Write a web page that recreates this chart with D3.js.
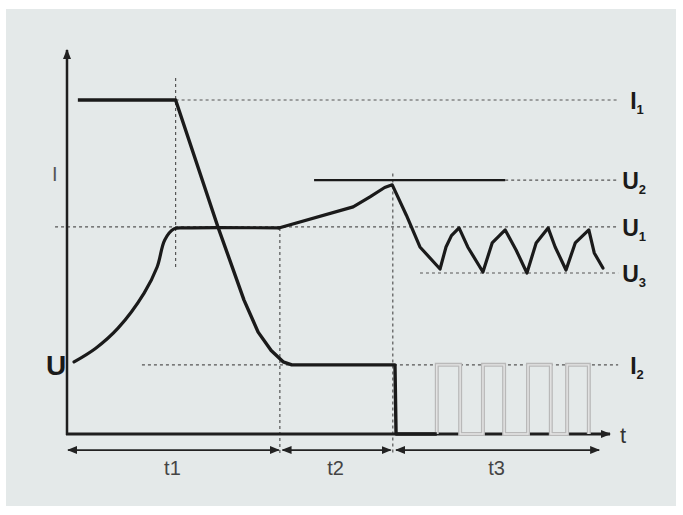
<!DOCTYPE html>
<html lang="en">
  <head>
    <meta charset="UTF-8" />
    <title>Charge profile</title>
    <script src="https://d3js.org/d3.v7.min.js"></script>
    <style>
      body { margin: 0; background: #fff; }
      svg text { font-family: "Liberation Sans", Arial, sans-serif; }
      .lbl { font-weight: bold; fill: #1a1a1a; font-size: 23px; }
      .ref { stroke: #555; stroke-width: 1.2; stroke-dasharray: 3 3; fill: none; }
      .phase { fill: #444; font-size: 20px; }
    </style>
  </head>
  <body>
    <div id="chart"></div>
    <script>
      // current curve I (time, level)
      const currentPoints = [
        [2, 100], [20, 100], [27.8, 62], [32.6, 40.1], [35.2, 30.5],
        [37.6, 25], [39.8, 21.6], [41.4, 20.7], [60.4, 20.7], [60.6, 0], [68.1, 0]
      ];
      // voltage curve U: smooth rise to the U1 plateau
      const voltageRise = [
        [1.3, 21.6], [5.3, 25.7], [9.4, 31.7], [14.2, 42.2], [16.6, 50],
        [18, 58.1], [19.7, 61.4], [22, 61.7], [39, 61.7]
      ];
      // voltage curve U: climb to U2 and sawtooth between U1 and U3
      const voltageCycle = [
        [39, 61.7], [52.7, 68], [55.8, 71], [58.5, 73.8],
        [59.9, 74.6], [62.5, 65.5], [65, 56], [68.7, 49.4], [69.8, 56], [70.8, 59.4], [72.2, 61.7],
        [73.8, 56], [76.6, 48.5], [78.3, 57.2], [80.7, 61.1], [82.7, 55.1],
        [84.7, 48.2], [86.4, 57.2], [88.6, 61.7], [89.9, 56], [91.9, 49.1],
        [93.6, 57.2], [96.1, 61.1], [97.1, 54.2], [98.7, 49.7]
      ];
      // pulsed current in phase t3 (start, end)
      const pulses = [[68.1, 72.4], [76.6, 80.5], [84.9, 89.1], [92.1, 96.1]];
      const pulseLevel = 20.7;

      // reference levels
      const levelNames = [["I", "1"], ["U", "2"], ["U", "1"], ["U", "3"], ["I", "2"]];
      const levelValues = [100, 76, 62, 48.2, 20.7];
      const levelFrom = [20, 80.7, -2.2, 65, 13.8];
      const levelTo = 101.5;
      const u2Solid = [45.5, 80.7];

      // vertical markers (time, from level, to level)
      const markers = [[20, 106.6, 49.7], [39.2, 61.7, -6.3], [60, 78, -6.3]];

      // phases
      const phaseNames = ["t1", "t2", "t3"];
      const phaseBounds = [[0.2, 39], [39.7, 59.6], [60.6, 98]];

      const W = 683, H = 515;
      const x = d3.scaleLinear().domain([0, 100]).range([67, 610]);
      const y = d3.scaleLinear().domain([0, 100]).range([434, 100]);

      const svg = d3.select("#chart").append("svg")
        .attr("width", W).attr("height", H);

      const defs = svg.append("defs");
      defs.append("marker").attr("id", "ah")
        .attr("viewBox", "0 0 10 10").attr("refX", 9).attr("refY", 5)
        .attr("markerWidth", 10).attr("markerHeight", 10)
        .attr("markerUnits", "userSpaceOnUse")
        .attr("orient", "auto-start-reverse")
        .append("path").attr("d", "M0,1 L10,5 L0,9 z").attr("fill", "#222");

      svg.append("rect").attr("x", 6).attr("y", 9)
        .attr("width", 670).attr("height", 497).attr("fill", "#e4e9e9");

      const line = d3.line().x((d) => x(d[0])).y((d) => y(d[1]));
      const smooth = d3.line().x((d) => x(d[0])).y((d) => y(d[1]))
        .curve(d3.curveCatmullRom.alpha(0.5));

      // reference dotted lines
      levelValues.forEach((v, i) => {
        svg.append("line").attr("class", "ref")
          .attr("x1", x(levelFrom[i])).attr("x2", x(levelTo))
          .attr("y1", y(v)).attr("y2", y(v));
        const t = svg.append("text").attr("class", "lbl")
          .attr("x", x(levelTo) + (levelNames[i][0] === "I" ? 12 : 4))
          .attr("y", y(v) + 9);
        t.append("tspan").text(levelNames[i][0]);
        t.append("tspan").attr("font-size", 13).attr("dy", 5).text(levelNames[i][1]);
      });
      markers.forEach((m) => {
        svg.append("line").attr("class", "ref")
          .attr("x1", x(m[0])).attr("x2", x(m[0]))
          .attr("y1", y(m[1])).attr("y2", y(m[2]));
      });

      // U2 limit (solid)
      svg.append("line")
        .attr("x1", x(u2Solid[0])).attr("x2", x(u2Solid[1]))
        .attr("y1", y(levelValues[1])).attr("y2", y(levelValues[1]))
        .attr("stroke", "#1a1a1a").attr("stroke-width", 2.2);

      // axes
      svg.append("line").attr("x1", x(0)).attr("x2", x(0))
        .attr("y1", y(0) + 1).attr("y2", y(115))
        .attr("stroke", "#1e1e1e").attr("stroke-width", 2.5)
        .attr("marker-end", "url(#ah)");
      svg.append("line").attr("x1", x(0) - 1).attr("x2", x(100))
        .attr("y1", y(0)).attr("y2", y(0))
        .attr("stroke", "#1e1e1e").attr("stroke-width", 3.2)
        .attr("marker-end", "url(#ah)");

      // pulsed current
      const pulsePath = [];
      pulses.forEach((p, i) => {
        if (i > 0) pulsePath.push([pulses[i - 1][1], 0]);
        pulsePath.push([p[0], 0], [p[0], pulseLevel], [p[1], pulseLevel], [p[1], 0]);
      });
      svg.append("path").attr("d", line(pulsePath)).attr("fill", "none")
        .attr("stroke", "#b9b9b9").attr("stroke-width", 4);
      svg.append("path").attr("d", line(pulsePath)).attr("fill", "none")
        .attr("stroke", "#e6e6e6").attr("stroke-width", 1.4);

      // curves
      svg.append("path").attr("d", line(currentPoints)).attr("fill", "none")
        .attr("stroke", "#1a1a1a").attr("stroke-width", 3.4)
        .attr("stroke-linejoin", "round");
      [smooth(voltageRise), line(voltageCycle)].forEach((d) => {
        svg.append("path").attr("d", d).attr("fill", "none")
          .attr("stroke", "#1a1a1a").attr("stroke-width", 3.2)
          .attr("stroke-linejoin", "round").attr("stroke-linecap", "round");
      });

      // axis labels
      svg.append("text").attr("x", x(0) - 15).attr("y", y(76) + 1)
        .attr("fill", "#555").attr("font-size", 20).text("I");
      svg.append("text").attr("class", "lbl").style("font-size", "28px")
        .attr("x", x(0) - 21).attr("y", y(17.6)).text("U");
      svg.append("text").attr("x", x(100) + 10).attr("y", y(-2.6))
        .attr("fill", "#333").attr("font-size", 22).text("t");

      // phase spans
      phaseNames.forEach((n, i) => {
        const [a, b] = phaseBounds[i];
        svg.append("line").attr("x1", x(a)).attr("x2", x(b))
          .attr("y1", y(-4.8)).attr("y2", y(-4.8))
          .attr("stroke", "#222").attr("stroke-width", 1.8)
          .attr("marker-start", "url(#ah)").attr("marker-end", "url(#ah)");
        svg.append("text").attr("class", "phase").attr("text-anchor", "middle")
          .attr("x", x((a + b) / 2) - 1).attr("y", y(-12.3)).text(n);
      });
    </script>
  </body>
</html>
